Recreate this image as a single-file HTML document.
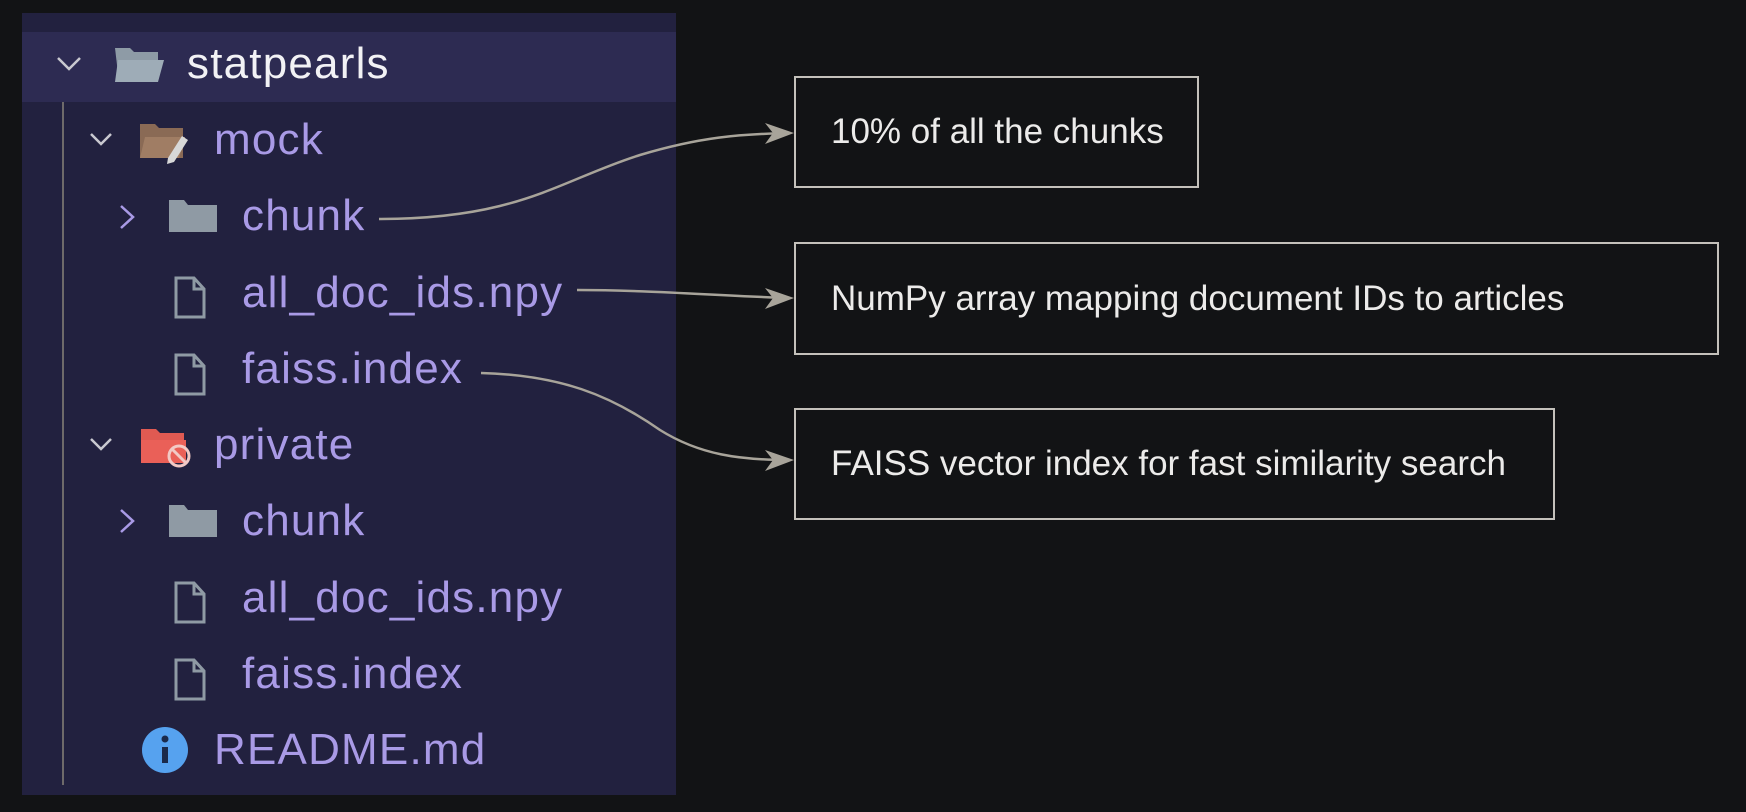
<!DOCTYPE html>
<html><head><meta charset="utf-8"><style>
body{margin:0;width:1746px;height:812px;background:#121315;overflow:hidden;position:relative;font-family:"Liberation Sans",sans-serif}
.panel{position:absolute;left:22px;top:13px;width:654px;height:782px;background:#22213f}
.hl{position:absolute;left:22px;top:32px;width:654px;height:70px;background:#2d2b52}
.vl{position:absolute;left:62px;top:102px;width:2px;height:683px;background:#6e6a6a}
.t{position:absolute;font-size:44px;letter-spacing:1.2px;color:#a99ae6;line-height:40px;white-space:nowrap}
.box{position:absolute;border:2px solid #c4c1bb;box-sizing:border-box;color:#ecebea;font-size:35px;padding-left:35px;display:flex;align-items:center;white-space:nowrap}
svg{position:absolute;left:0;top:0}
</style></head><body>
<div class="panel"></div><div class="hl"></div><div class="vl"></div>
<svg width="1746" height="812">
<g fill="none" stroke="#c9c9d0" stroke-width="2.5">
<polyline points="58,58 69,69 80,58"/>
<polyline points="91,134 101,144 111,134"/>
<polyline points="91,439 101,449 111,439"/>
</g>
<g fill="none" stroke="#a99ae6" stroke-width="2.5">
<polyline points="121,206 133,217 121,228"/>
<polyline points="121,510 133,521 121,532"/>
</g>
<path d="M115,48 h15 l4,4 h24 v30 h-39 z" fill="#8e9ba6"/>
<path d="M118,60 h46 l-6,22 h-43 z" fill="#9eacb7"/>
<path d="M140,124 h15 l4,4 h24 v30 h-43 z" fill="#8a6a55"/>
<path d="M145,137 h40 l-6,21 h-39 z" fill="#a07d64"/>
<path d="M168,158 l14,-22 l6,4 l-14,22 l-7,2 z" fill="#d8d8d8"/>
<path d="M169,200 h15 l4,5 h29 v27 h-48 z" fill="#8f9aa4"/>
<path d="M169,505 h15 l4,5 h29 v27 h-48 z" fill="#8f9aa4"/>
<path d="M141,429 h15 l4,4 h24 v30 h-43 z" fill="#e05a52"/>
<path d="M141,440 h45 v23 h-45 z" fill="#ea6058"/>
<circle cx="179" cy="456" r="10" fill="none" stroke="#f2c9c5" stroke-width="3"/>
<line x1="172" y1="449" x2="186" y2="463" stroke="#f2c9c5" stroke-width="3"/>
<g fill="none" stroke="#8f9aa4" stroke-width="3">
<path d="M176,278 h18 l10,11 v28 h-28 z M194,278 v11 h10"/>
<path d="M176,355 h18 l10,11 v28 h-28 z M194,355 v11 h10"/>
<path d="M176,583 h18 l10,11 v28 h-28 z M194,583 v11 h10"/>
<path d="M176,660 h18 l10,11 v28 h-28 z M194,660 v11 h10"/>
</g>
<circle cx="165" cy="750" r="23" fill="#56a2ef"/>
<rect x="162" y="747" width="6" height="16" fill="#1b2a4a"/>
<circle cx="165" cy="739" r="3.5" fill="#1b2a4a"/>
<g fill="none" stroke="#a8a49a" stroke-width="2.5">
<path d="M379,219 C520,219 560,180 640,155 C700,137 740,134 790,133"/>
<path d="M577,290 C650,290 720,296 790,298"/>
<path d="M481,373 C560,375 610,395 660,430 C700,455 740,460 790,460"/>
</g>
<g fill="#a8a49a">
<path d="M794,133 L765,123 L773,133 L765,144 z"/>
<path d="M794,298 L765,288 L773,298 L765,309 z"/>
<path d="M794,460 L765,450 L773,460 L765,471 z"/>
</g>
</svg>
<div class="t" style="left:187px;top:44px;color:#f2f2f5">statpearls</div>
<div class="t" style="left:214px;top:120px">mock</div>
<div class="t" style="left:242px;top:196px">chunk</div>
<div class="t" style="left:242px;top:273px">all_doc_ids.npy</div>
<div class="t" style="left:242px;top:349px">faiss.index</div>
<div class="t" style="left:214px;top:425px">private</div>
<div class="t" style="left:242px;top:501px">chunk</div>
<div class="t" style="left:242px;top:578px">all_doc_ids.npy</div>
<div class="t" style="left:242px;top:654px">faiss.index</div>
<div class="t" style="left:214px;top:730px">README.md</div>
<div class="box" style="left:794px;top:76px;width:405px;height:112px">10% of all the chunks</div>
<div class="box" style="left:794px;top:242px;width:925px;height:113px">NumPy array mapping document IDs to articles</div>
<div class="box" style="left:794px;top:408px;width:761px;height:112px">FAISS vector index for fast similarity search</div>
</body></html>
